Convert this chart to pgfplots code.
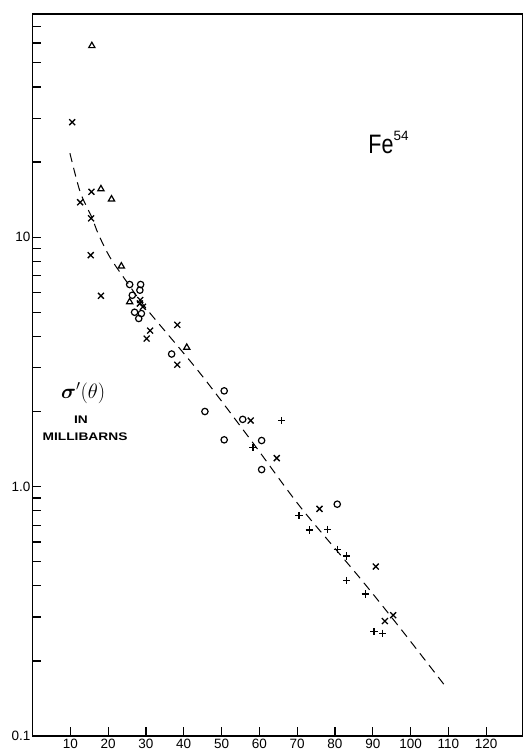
\documentclass[border=0pt]{standalone}
\usepackage{pgfplots}
\pgfplotsset{compat=1.18}
\usepackage{bm}
\usepackage{fontspec}
\setmainfont{Liberation Sans}
\begin{document}
\begin{tikzpicture}
\begin{axis}[
  at={(0,0)}, anchor=south west,
  scale only axis,
  width=490pt, height=722pt,
  xmin=0, xmax=129.6,
  ymode=log, ymin=0.1, ymax=78.5,
  axis line style={line width=1.5pt},
  xtick={10,20,...,120},
  ytick={0.1,0.2,0.3,0.4,0.5,0.6,0.7,0.8,0.9,1,2,3,4,5,6,7,8,9,10,20,30,40,50,60,70},
  yticklabels={0.1,{},{},{},{},{},{},{},{},1.0,{},{},{},{},{},{},{},{},10,{},{},{},{},{},{}},
  xtick pos=bottom, ytick pos=left,
  xtick align=inside, ytick align=inside,
  major tick length=9pt,
  tick style={black, line width=1.2pt},
  tick label style={font=\fontsize{13.5}{13.5}\selectfont},
  yticklabel style={inner sep=2pt},
  /pgf/number format/assume math mode=true,
  clip=false,
]
% dashed fit curve
\addplot[black, line width=1pt, dash pattern=on 9pt off 6pt, smooth, tension=0.5] coordinates {
 (9.9,21.7) (12.6,15.2) (15.7,12.0) (17.4,10.3) (20.5,8.3) (25,6.6) (30.2,5.15)
 (44.3,2.85) (58.4,1.49) (70.8,0.83) (86.6,0.43) (97.3,0.27) (109.1,0.159)
};
% crosses
\addplot[only marks, mark=x, mark size=4.2pt, line width=1.3pt, black] coordinates {
 (10.5,28.9) (15.6,15.2) (12.6,13.8) (15.5,11.9) (15.4,8.47) (18.1,5.82)
 (28.5,5.6) (28.4,5.42) (29.2,5.26) (31.1,4.22) (30.2,3.92) (38.3,4.45) (38.3,3.08)
 (57.7,1.84) (64.6,1.30) (75.9,0.814) (90.8,0.478) (93.2,0.289) (95.4,0.305)
};
% pluses
\addplot[only marks, mark=+, mark size=3.6pt, line width=1.3pt, black] coordinates {
 (58.3,1.43) (65.9,1.84) (70.5,0.765) (73.2,0.67) (78.1,0.675) (80.6,0.561)
 (83.1,0.527) (83.1,0.42) (88.0,0.371) (90.3,0.262) (92.6,0.258)
};
% circles
\addplot[only marks, mark=o, mark size=3.2pt, line width=1.2pt, black] coordinates {
 (25.7,6.46) (28.6,6.46) (28.4,6.13) (26.4,5.85) (27.0,5.0) (28.8,4.94) (28.1,4.72)
 (36.8,3.40) (50.7,2.42) (45.6,2.0) (55.6,1.86) (50.7,1.54) (60.6,1.53) (60.6,1.17)
 (80.6,0.85)
};
% triangles
\addplot[only marks, mark=triangle, mark size=3.6pt, line width=1.2pt, black] coordinates {
 (15.7,58.5) (18.1,15.6) (20.9,14.2) (23.5,7.65) (25.7,5.5) (40.8,3.61)
};
\node[anchor=base west, inner sep=0pt] at (axis cs:88.8,21.6)
  {\scalebox{1}[1.24]{\fontsize{21.5}{21.5}\selectfont Fe}\raisebox{13pt}{\fontsize{13.5}{13.5}\selectfont 54}};
\node[inner sep=0pt] at (axis cs:13.4,2.376) {\fontsize{20}{20}\selectfont $\bm{\sigma}^{\prime}(\theta)$};
\node[inner sep=0pt] at (axis cs:12.8,1.851) {\scalebox{1.25}[1]{\fontsize{11}{11}\selectfont\bfseries IN}};
\node[inner sep=0pt] at (axis cs:13.9,1.582) {\scalebox{1.25}[1]{\fontsize{11}{11}\selectfont\bfseries MILLIBARNS}};
\end{axis}
\pgfresetboundingbox
\path[use as bounding box] (-32.5pt,-15pt) rectangle (492.5pt,736pt);
\end{tikzpicture}
\end{document}
